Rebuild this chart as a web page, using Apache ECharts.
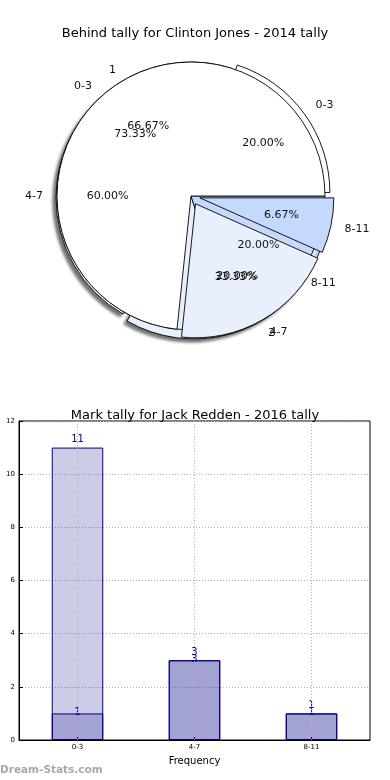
<!DOCTYPE html>
<html>
<head>
<meta charset="utf-8">
<script src="https://cdn.jsdelivr.net/npm/echarts@6/dist/echarts.min.js"></script>
<style>html,body{margin:0;padding:0;background:#fff}#c{width:390px;height:780px}</style>
</head>
<body>
<div id="c"></div>
<script>
// ---- data ----
const pieCategories = ['0-3', '4-7', '8-11'];
const pie1Values = [11, 3, 1];        // top pie
const pie2Labels = ['1', '2'];
const pie2Values = [2, 1];
const pie3Values = [1, 3, 1];
const barCategories = ['0-3', '4-7', '8-11'];
const barSeriesA = [11, 3, 1];
const barSeriesB = [1, 3, 1];
const yMax = 12, yInterval = 2;

const pieTitle = 'Behind tally for Clinton Jones - 2014 tally';
const barTitle = 'Mark tally for Jack Redden - 2016 tally';

// ---- styling ----
const sliceColors = ['#ffffff', '#e9f0fd', '#c5d9fd'];
const FONT = 'DejaVu Sans';
const R = 134;

function pct(values) {
  const s = values.reduce((a, b) => a + b, 0);
  return values.map(v => (v / s * 100).toFixed(2) + '%');
}

function pieSeries(labels, values, center, exploded, offset, shadow) {
  const pcts = pct(values);
  const mk = (transparent) => values.map((v, i) => ({
    name: labels[i],
    value: v,
    selected: exploded.indexOf(i) >= 0,
    pctText: pcts[i],
    itemStyle: transparent ? { color: 'rgba(0,0,0,0)', borderWidth: 0, shadowBlur: 0 } : { color: sliceColors[i % sliceColors.length] }
  }));
  const common = {
    type: 'pie', center: center, startAngle: 0, clockwise: false,
    selectedMode: 'multiple', selectedOffset: offset, silent: true,
    avoidLabelOverlap: false, animation: false, emphasis: { disabled: true },
    labelLayout: { hideOverlap: false }
  };
  return [
    Object.assign({}, common, {
      radius: R, z: 2,
      data: mk(false),
      itemStyle: Object.assign({ borderColor: '#000', borderWidth: 0.9 }, shadow ? { shadowBlur: 3, shadowColor: 'rgba(0,0,0,0.55)', shadowOffsetX: -3, shadowOffsetY: 3 } : {}),
      label: { show: false },
      labelLine: { show: false }
    }),
    Object.assign({}, common, {
      radius: R, z: 10,
      data: mk(true),
      label: { show: true, position: 'outside', formatter: '{b}', fontFamily: FONT, fontSize: 11, color: '#111', distanceToLabelLine: 0 },
      labelLine: { show: false, length: 14, length2: 0 }
    }),
    Object.assign({}, common, {
      radius: [R * 0.2, R], z: 10,
      data: mk(true),
      label: { show: true, position: 'inside', formatter: p => p.data.pctText, fontFamily: FONT, fontSize: 11, color: '#111' },
      labelLine: { show: false }
    })
  ];
}

const series = [];
series.push(...pieSeries(pie2Labels, pie2Values, [190, 198], [1], 8, true));
series.push(...pieSeries(pieCategories, pie3Values, [191, 196], [0], 6, false));
series.push(...pieSeries(pieCategories, pie1Values, [191, 196], [1, 2], 9, false));

series.push({
  type: 'bar', data: barSeriesA, barWidth: '44%', barGap: '-100%', animation: false, silent: true,
  itemStyle: { color: 'rgba(0,0,128,0.2)', borderColor: '#000080', borderWidth: 1 },
  label: { show: true, position: 'top', distance: 3, color: '#0000a0', fontFamily: FONT, fontSize: 10 },
  markLine: {
    silent: true, symbol: 'none', animation: false, label: { show: false },
    lineStyle: { color: '#b0b0b0', type: [1, 2], width: 1 },
    data: barCategories.map(c => ({ xAxis: c }))
  }
});
series.push({
  type: 'bar', data: barSeriesB, barWidth: '44%', barGap: '-100%', animation: false, silent: true,
  itemStyle: { color: 'rgba(0,0,128,0.2)', borderColor: '#000080', borderWidth: 1 },
  label: { show: true, position: 'top', distance: -4, color: '#0000a0', fontFamily: FONT, fontSize: 10 }
});

const option = {
  backgroundColor: '#fff',
  animation: false,
  title: [
    { text: pieTitle, left: 'center', top: 22, textStyle: { fontFamily: FONT, fontSize: 13, fontWeight: 'normal', color: '#000' } },
    { text: barTitle, left: 'center', top: 404, textStyle: { fontFamily: FONT, fontSize: 13, fontWeight: 'normal', color: '#000' } }
  ],
  grid: { left: 19, right: 20, top: 421, bottom: 40, containLabel: false, outerBoundsMode: 'none', show: true, borderColor: '#000', borderWidth: 1, backgroundColor: 'transparent' },
  xAxis: {
    type: 'category', data: barCategories,
    name: 'Frequency', nameLocation: 'middle', nameGap: 16,
    nameTextStyle: { fontFamily: FONT, fontSize: 10, color: '#000' },
    axisLine: { show: true, lineStyle: { color: '#000' } },
    axisTick: { show: true, inside: true, alignWithLabel: true, length: 4, lineStyle: { color: '#000' } },
    axisLabel: { fontFamily: FONT, fontSize: 7, color: '#000', margin: 4 },
    splitLine: { show: false }
  },
  yAxis: {
    type: 'value', min: 0, max: yMax, interval: yInterval,
    name: 'Student tally', nameLocation: 'middle', nameGap: 13, nameRotate: 90,
    nameTextStyle: { fontFamily: FONT, fontSize: 9, color: '#000' },
    axisLine: { show: true, lineStyle: { color: '#000' } },
    axisTick: { show: true, inside: true, length: 4, lineStyle: { color: '#000' } },
    axisLabel: { fontFamily: FONT, fontSize: 7, color: '#000', margin: 4 },
    splitLine: { show: true, lineStyle: { color: '#b0b0b0', type: [1, 2], width: 1 } }
  },
  graphic: [
    { type: 'text', left: 0, top: 765, style: { text: 'Dream-Stats.com', fontFamily: FONT, fontSize: 10.5, fontWeight: 'bold', fill: '#a8a8a8' } }
  ],
  series: series
};

const chart = echarts.init(document.getElementById('c'), null, { renderer: 'canvas' });
chart.setOption(option);
</script>
</body>
</html>
